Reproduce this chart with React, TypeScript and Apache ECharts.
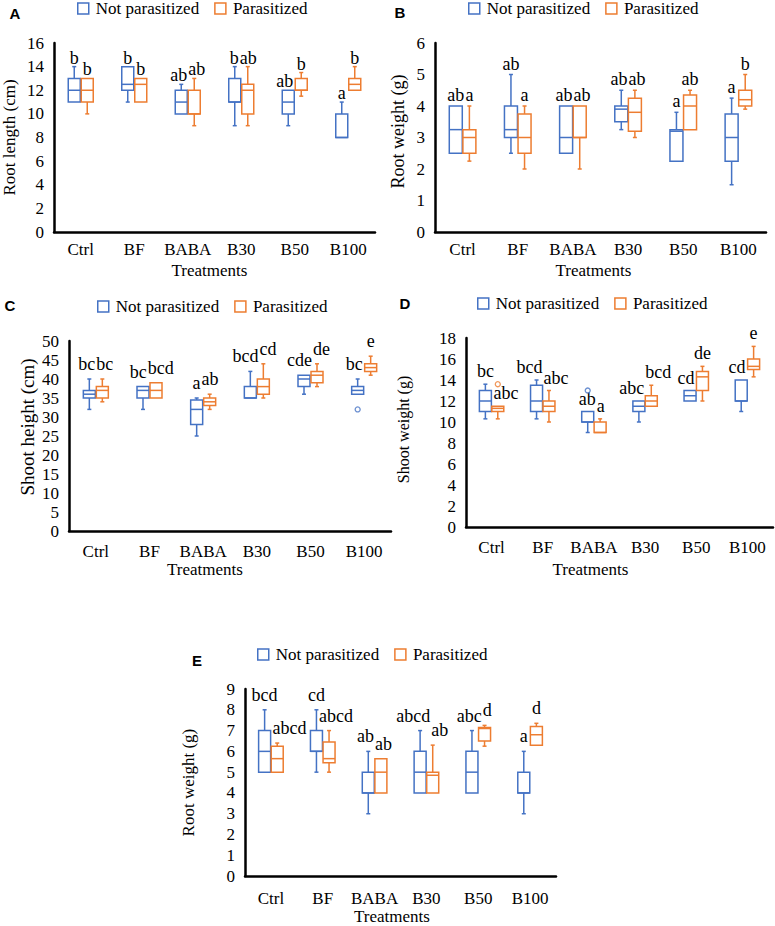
import React, { useEffect, useRef } from 'react';
import * as echarts from 'echarts';

const categories = ['Ctrl', 'BF', 'BABA', 'B30', 'B50', 'B100'];
const seriesNames = ['Not parasitized', 'Parasitized'];

// each row: [min, Q1, median, Q3, max]
const rootLengthNot = [
  [11, 11, 12, 13, 14],
  [11, 12, 12.5, 14, 14],
  [10, 10, 11, 12, 12.5],
  [9, 11, 11, 13, 14],
  [9, 10, 11, 12, 12],
  [8, 8, 8, 10, 11],
];
const rootLengthPar = [
  [10, 11, 12, 13, 13],
  [11, 11, 12.5, 13, 13],
  [9, 10, 10, 12, 13],
  [9, 10, 12, 12.5, 14],
  [11.5, 12, 12, 13, 13.5],
  [12, 12, 12.5, 13, 14],
];
const rootLengthNotLetters = ['b', 'b', 'ab', 'b', 'ab', 'a'];
const rootLengthParLetters = ['b', 'b', 'ab', 'ab', 'b', 'b'];

const rootWeightNot = [
  [2.5, 2.5, 3.25, 4, 4],
  [2.5, 3, 3.25, 4, 5],
  [2.5, 2.5, 3, 4, 4],
  [3.25, 3.5, 3.9, 4, 4.5],
  [2.25, 2.25, 3.2, 3.25, 3.8],
  [1.5, 2.25, 3, 3.75, 4.25],
];
const rootWeightPar = [
  [2.25, 2.5, 3, 3.25, 4],
  [2, 2.5, 3, 3.75, 4],
  [2, 3, 3, 4, 4],
  [3, 3.2, 3.8, 4.25, 4.5],
  [3.25, 3.25, 4, 4.35, 4.5],
  [3.9, 4, 4.2, 4.5, 5],
];
const rootWeightNotLetters = ['ab', 'ab', 'ab', 'ab', 'a', 'a'];
const rootWeightParLetters = ['a', 'a', 'ab', 'ab', 'ab', 'b'];

const shootHeightNot = [
  [32, 35, 36, 37, 40],
  [32, 35, 37, 38, 38],
  [25, 28, 32, 34.5, 35],
  [35, 35, 35, 38, 42],
  [36, 38, 40, 41, 41],
  [36, 36, 37, 38, 40],
];
const shootHeightPar = [
  [34, 35, 37, 38, 40],
  [35, 35, 37, 39, 39],
  [32, 33, 34, 35, 36],
  [35, 36, 38, 40, 44],
  [38, 39, 41, 42, 44],
  [41, 42, 43, 44, 46],
];
const shootHeightNotOutliers = [[5, 32]];
const shootHeightParOutliers: number[][] = [];
const shootHeightNotLetters = ['bc', 'bc', 'a', 'bcd', 'cde', 'bc'];
const shootHeightParLetters = ['bc', 'bcd', 'ab', 'cd', 'de', 'e'];

const shootWeightNot = [
  [10.3, 11, 12, 13, 13.6],
  [10.3, 11, 12, 13.5, 14],
  [9, 10, 10, 11, 11],
  [10, 11, 11.5, 12, 12],
  [12, 12, 12.5, 13, 13],
  [11, 12, 12, 14, 14],
];
const shootWeightPar = [
  [10.3, 11, 11.3, 11.5, 11.5],
  [10, 11, 11.5, 12, 13],
  [9, 9, 9, 10, 10.3],
  [11.5, 11.5, 12, 12.5, 13.5],
  [12, 13, 14.3, 14.8, 15.3],
  [14.3, 15, 15.3, 16, 17.2],
];
const shootWeightNotOutliers = [[2, 13]];
const shootWeightParOutliers = [[0, 13.6]];
const shootWeightNotLetters = ['bc', 'bcd', 'ab', 'abc', 'cd', 'cd'];
const shootWeightParLetters = ['abc', 'abc', 'a', 'bcd', 'de', 'e'];

const rootWeight2Not = [
  [5, 5, 6, 7, 8],
  [5, 6, 6, 7, 8],
  [3, 4, 4, 5, 6],
  [4, 4, 5, 6, 7],
  [4, 4, 5, 6, 7],
  [3, 4, 4, 5, 6],
];
const rootWeight2Par = [
  [5, 5, 5.65, 6.25, 6.4],
  [5, 5.45, 5.65, 6.45, 7],
  [4, 4, 5, 5.65, 5.65],
  [4, 4, 4.85, 5, 6.3],
  [6.25, 6.5, 7.1, 7.15, 7.25],
  [6.3, 6.3, 6.8, 7.2, 7.35],
];
const rootWeight2NotLetters = ['bcd', 'cd', 'ab', 'abcd', 'abc', 'a'];
const rootWeight2ParLetters = ['abcd', 'abcd', 'ab', 'ab', 'd', 'd'];

const BLUE = '#4472C4';
const ORANGE = '#ED7D31';
const SERIF = 'Liberation Serif';
const SANS = 'Liberation Sans';
const LETTER_SIZE = 18;

type Panel = {
  tag: string; tagX: number; tagY: number;
  yName: string; yMax: number; yInterval: number;
  not: number[][]; par: number[][];
  notOut: number[][]; parOut: number[][];
  notLetters: string[]; parLetters: string[];
  grid: { left: number; top: number; width: number; height: number };
  yNameGap: number; yNameSize: number; yNameLift: number; xLabelMargin: number;
  xNameGap: number; xNameShift: number; letterGap: number;
  legendLeft: number; legendTop: number; half: number; boxW: number;
};

const panels: Panel[] = [
  {
    tag: 'A', tagX: 15, tagY: 13, yName: 'Root length (cm)', yMax: 16, yInterval: 2,
    not: rootLengthNot, par: rootLengthPar, notOut: [], parOut: [],
    notLetters: rootLengthNotLetters, parLetters: rootLengthParLetters,
    grid: { left: 53, top: 43, width: 322, height: 189 },
    yNameGap: 36, yNameSize: 17, yNameLift: 0, xLabelMargin: 9, xNameGap: 29.5, xNameShift: 5, letterGap: 3,
    legendLeft: 77, legendTop: 0, half: 6.5, boxW: 12,
  },
  {
    tag: 'B', tagX: 400, tagY: 12, yName: 'Root weight (g)', yMax: 6, yInterval: 1,
    not: rootWeightNot, par: rootWeightPar, notOut: [], parOut: [],
    notLetters: rootWeightNotLetters, parLetters: rootWeightParLetters,
    grid: { left: 435, top: 43, width: 331, height: 189 },
    yNameGap: 28, yNameSize: 18, yNameLift: 6, xLabelMargin: 9, xNameGap: 29.5, xNameShift: 7, letterGap: 5,
    legendLeft: 468, legendTop: 0, half: 6.8, boxW: 13,
  },
  {
    tag: 'C', tagX: 10, tagY: 305, yName: 'Shoot height (cm)', yMax: 50, yInterval: 5,
    not: shootHeightNot, par: shootHeightPar, notOut: shootHeightNotOutliers, parOut: shootHeightParOutliers,
    notLetters: shootHeightNotLetters, parLetters: shootHeightParLetters,
    grid: { left: 69, top: 341, width: 322, height: 190 },
    yNameGap: 32, yNameSize: 19, yNameLift: 9, xLabelMargin: 12, xNameGap: 29.5, xNameShift: 25, letterGap: 9,
    legendLeft: 97, legendTop: 298, half: 6.5, boxW: 12,
  },
  {
    tag: 'D', tagX: 405, tagY: 303, yName: 'Shoot weight (g)', yMax: 18, yInterval: 2,
    not: shootWeightNot, par: shootWeightPar, notOut: shootWeightNotOutliers, parOut: shootWeightParOutliers,
    notLetters: shootWeightNotLetters, parLetters: shootWeightParLetters,
    grid: { left: 466, top: 338, width: 307, height: 189 },
    yNameGap: 55, yNameSize: 16, yNameLift: 3, xLabelMargin: 12, xNameGap: 33.5, xNameShift: 29, letterGap: 7,
    legendLeft: 477, legendTop: 295, half: 6.2, boxW: 12,
  },
  {
    tag: 'E', tagX: 197, tagY: 660, yName: 'Root weight (g)', yMax: 9, yInterval: 1,
    not: rootWeight2Not, par: rootWeight2Par, notOut: [], parOut: [],
    notLetters: rootWeight2NotLetters, parLetters: rootWeight2ParLetters,
    grid: { left: 245, top: 689, width: 311, height: 190 },
    yNameGap: 48, yNameSize: 17, yNameLift: 0, xLabelMargin: 14, xNameGap: 29.5, xNameShift: 8.5, letterGap: 9,
    legendLeft: 257, legendTop: 646, half: 6.3, boxW: 12,
  },
];

let measureCtx: CanvasRenderingContext2D | null = null;
function measure(text: string): number {
  if (!measureCtx) {
    const c = document.createElement('canvas');
    measureCtx = c.getContext('2d');
  }
  if (!measureCtx) return text.length * LETTER_SIZE * 0.48;
  measureCtx.font = `${LETTER_SIZE}px "Liberation Serif"`;
  return measureCtx.measureText(text).width;
}

function boxSeries(p: Panel, idx: number, rows: number[][], color: string, side: number, name: string) {
  return {
    type: 'custom',
    name,
    xAxisIndex: idx,
    yAxisIndex: idx,
    silent: true,
    data: rows.map((r, i) => [i, ...r]),
    encode: { x: 0, y: [1, 2, 3, 4, 5] },
    renderItem: (_params: any, api: any) => {
      const c = api.value(0);
      const cx = api.coord([c, 0])[0] + side * p.half;
      const yMin = api.coord([c, api.value(1)])[1];
      const yQ1 = api.coord([c, api.value(2)])[1];
      const yMed = api.coord([c, api.value(3)])[1];
      const yQ3 = api.coord([c, api.value(4)])[1];
      const yMax = api.coord([c, api.value(5)])[1];
      const hw = p.boxW / 2;
      const cap = 2;
      const st = { stroke: color, lineWidth: 1.5, fill: null };
      const children: any[] = [];
      if (yQ3 - yMax > 0.5) {
        children.push({ type: 'line', shape: { x1: cx, y1: yQ3, x2: cx, y2: yMax }, style: st });
        children.push({ type: 'line', shape: { x1: cx - cap, y1: yMax, x2: cx + cap, y2: yMax }, style: st });
      }
      if (yMin - yQ1 > 0.5) {
        children.push({ type: 'line', shape: { x1: cx, y1: yQ1, x2: cx, y2: yMin }, style: st });
        children.push({ type: 'line', shape: { x1: cx - cap, y1: yMin, x2: cx + cap, y2: yMin }, style: st });
      }
      children.push({
        type: 'rect',
        shape: { x: cx - hw, y: yQ3, width: p.boxW, height: Math.max(yQ1 - yQ3, 0.5) },
        style: { stroke: color, lineWidth: 1.5, fill: 'none' },
      });
      children.push({ type: 'line', shape: { x1: cx - hw, y1: yMed, x2: cx + hw, y2: yMed }, style: st });
      return { type: 'group', children };
    },
  };
}

function outlierSeries(idx: number, pts: number[][], color: string, side: number, half: number) {
  return {
    type: 'scatter',
    name: 'outliers',
    xAxisIndex: idx,
    yAxisIndex: idx,
    silent: true,
    data: pts,
    symbol: 'circle',
    symbolSize: 5,
    symbolOffset: [side * half, 0],
    itemStyle: { color: '#ffffff', borderColor: color, borderWidth: 1.3 },
  };
}

function letterSeries(p: Panel, idx: number) {
  return {
    type: 'custom',
    name: 'letters',
    xAxisIndex: idx,
    yAxisIndex: idx,
    silent: true,
    data: categories.map((_, i) => [i, p.not[i][4], p.not[i][3], p.not[i][1], p.par[i][4], p.par[i][3], p.par[i][1]]),
    encode: { x: 0, y: [1, 2, 3, 4, 5, 6] },
    renderItem: (_params: any, api: any) => {
      const c = api.value(0);
      const py = (d: number) => api.coord([c, api.value(d)])[1];
      const x0 = api.coord([c, 0])[0];
      const hw = p.boxW / 2;
      const yMaxB = py(1), yQ3B = py(2), yQ1B = py(3);
      const yMaxO = py(4), yQ3O = py(5), yQ1O = py(6);
      const cxB = x0 - p.half;
      const cxO = x0 + p.half;
      const yB = yMaxB - p.letterGap + 3;
      const yO = yMaxO - p.letterGap + 3;
      const tB = p.notLetters[c];
      const tO = p.parLetters[c];
      const wB = measure(tB);
      const wO = measure(tO);
      let xB = cxB;
      let xO = cxO;
      const inter = (a0: number, a1: number, b0: number, b1: number) => a0 < b1 && b0 < a1;
      if (Math.abs(yB - yO) < LETTER_SIZE - 2) {
        const needed = (wB + wO) / 2 + 1;
        const dist = xO - xB;
        if (dist < needed) {
          const d = (needed - dist) / 2;
          xB -= d;
          xO += d;
        }
      } else if (yO > yB) {
        const g0 = yO - 15, g1 = yO - 3;
        let lim = -Infinity;
        if (inter(g0, g1, yQ3B, yQ1B)) lim = cxB + hw + 2;
        else if (inter(g0, g1, yMaxB, yQ3B)) lim = cxB + 2.5;
        if (xO - wO / 2 < lim) xO = lim + wO / 2;
      } else {
        const g0 = yB - 15, g1 = yB - 3;
        let lim = Infinity;
        if (inter(g0, g1, yQ3O, yQ1O)) lim = cxO - hw - 2;
        else if (inter(g0, g1, yMaxO, yQ3O)) lim = cxO - 2.5;
        if (xB + wB / 2 > lim) xB = lim - wB / 2;
      }
      const mk = (t: string, x: number, y: number) => ({
        type: 'text',
        x,
        y,
        style: { text: t, fill: '#000', fontSize: LETTER_SIZE, fontFamily: SERIF, align: 'center', verticalAlign: 'bottom' },
      });
      return { type: 'group', children: [mk(tB, xB, yB), mk(tO, xO, yO)] };
    },
  };
}

function buildOption() {
  const series: any[] = [];
  panels.forEach((p, i) => {
    series.push(boxSeries(p, i, p.not, BLUE, -1, seriesNames[0]));
    series.push(boxSeries(p, i, p.par, ORANGE, 1, seriesNames[1]));
    if (p.notOut.length) series.push(outlierSeries(i, p.notOut, BLUE, -1, p.half));
    if (p.parOut.length) series.push(outlierSeries(i, p.parOut, ORANGE, 1, p.half));
    series.push(letterSeries(p, i));
  });
  return {
    animation: false,
    backgroundColor: '#ffffff',
    textStyle: { fontFamily: SERIF },
    grid: panels.map((p) => ({ ...p.grid, containLabel: false })),
    xAxis: panels.map((p, i) => ({
      gridIndex: i,
      type: 'category',
      data: categories,
      boundaryGap: true,
      axisLine: { show: true, lineStyle: { color: '#000', width: 2.5 } },
      axisTick: { show: false },
      splitLine: { show: false },
      axisLabel: { interval: 0, fontFamily: SERIF, fontSize: 17, color: '#000', margin: p.xLabelMargin },
      name: 'Treatments',
      nameLocation: 'middle',
      nameGap: p.xNameGap,
      nameTextStyle: { fontFamily: SERIF, fontSize: 17, color: '#000', padding: [0, p.xNameShift * 2, 0, 0] },
    })),
    yAxis: panels.map((p, i) => ({
      gridIndex: i,
      type: 'value',
      min: 0,
      max: p.yMax,
      interval: p.yInterval,
      axisLine: { show: true, lineStyle: { color: '#000', width: 2.5 } },
      axisTick: { show: false },
      splitLine: { show: false },
      axisLabel: { fontFamily: SERIF, fontSize: 17, color: '#000', margin: 10 },
      name: p.yName,
      nameLocation: 'middle',
      nameGap: p.yNameGap,
      nameTextStyle: { fontFamily: SERIF, fontSize: p.yNameSize, color: '#000', padding: [0, 0, 0, p.yNameLift * 2] },
    })),
    legend: panels.map((p) => ({
      left: p.legendLeft,
      top: p.legendTop,
      padding: 0,
      icon: 'rect',
      itemWidth: 11,
      itemHeight: 11,
      itemGap: 15,
      selectedMode: false,
      textStyle: { fontFamily: SERIF, fontSize: 17, color: '#000', padding: [0, 0, 0, 2] },
      data: [
        { name: seriesNames[0], itemStyle: { color: '#ffffff', borderColor: BLUE, borderWidth: 1.5 } },
        { name: seriesNames[1], itemStyle: { color: '#ffffff', borderColor: ORANGE, borderWidth: 1.5 } },
      ],
    })),
    graphic: panels.map((p) => ({
      type: 'text',
      x: p.tagX,
      y: p.tagY,
      style: { text: p.tag, fill: '#000', fontFamily: SANS, fontWeight: 'bold', fontSize: 15, align: 'center', verticalAlign: 'middle' },
    })),
    series,
  };
}

export default function App() {
  const ref = useRef<HTMLDivElement>(null);
  useEffect(() => {
    document.body.style.margin = '0';
    if (!ref.current) return;
    const chart = echarts.init(ref.current, undefined, { renderer: 'svg' });
    chart.setOption(buildOption() as any);
    return () => chart.dispose();
  }, []);
  return <div ref={ref} style={{ width: 775, height: 926, background: '#fff' }} />;
}
